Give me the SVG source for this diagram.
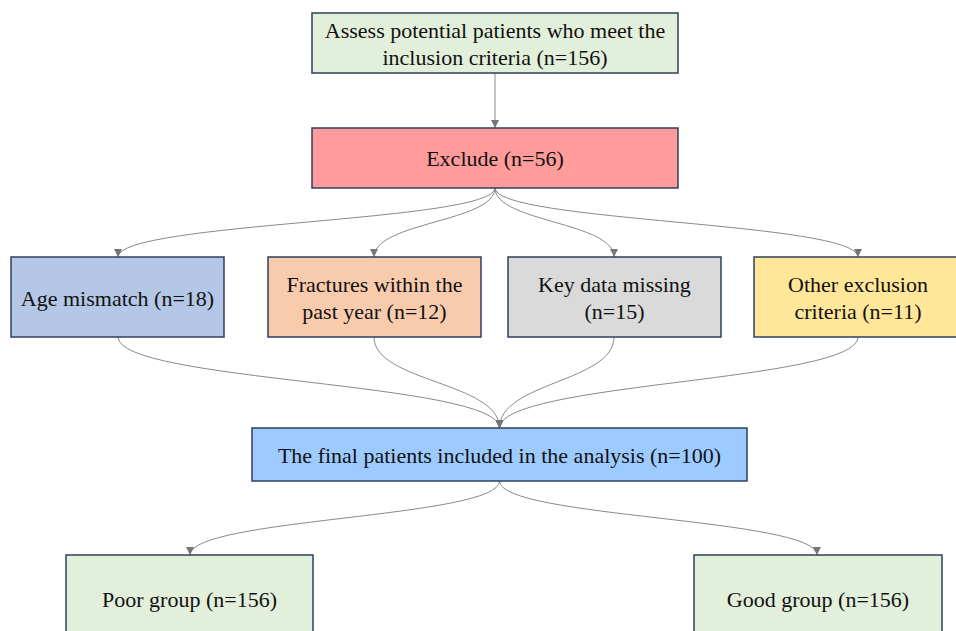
<svg xmlns="http://www.w3.org/2000/svg" width="956" height="631" viewBox="0 0 956 631">
<defs>
<marker id="ah" viewBox="0 0 10 10" refX="10" refY="5" markerWidth="8" markerHeight="8" markerUnits="userSpaceOnUse" orient="auto">
<path d="M0,0 L10,5 L0,10 z" fill="#767676"/>
</marker>
</defs>
<style>
.box{stroke:#2f3f5c;stroke-width:1.5}
.t{font-family:"Liberation Serif","Times New Roman",serif;font-size:22px;fill:#111;text-anchor:middle}
.c{fill:none;stroke:#8a8a8a;stroke-width:1;marker-end:url(#ah)}
</style>
<rect width="956" height="631" fill="#ffffff"/>
<g id="connectors">
<path class="c" d="M495,73 L495,128"/>
<path class="c" d="M495,188 C495,222 118,222 118,257"/>
<path class="c" d="M495,188 C495,222 374,222 374,257"/>
<path class="c" d="M495,188 C495,222 614,222 614,257"/>
<path class="c" d="M495,188 C495,222 858,222 858,257"/>
<path class="c" d="M118,337 C118,382 499.5,382 499.5,428"/>
<path class="c" d="M374,337 C374,382 499.5,382 499.5,428"/>
<path class="c" d="M614,337 C614,382 499.5,382 499.5,428"/>
<path class="c" d="M858,337 C858,382 499.5,382 499.5,428"/>
<path class="c" d="M499.5,481 C499.5,518 190,518 190,555"/>
<path class="c" d="M499.5,481 C499.5,518 817,518 817,555"/>
</g>
<g id="assess">
<rect class="box" x="312" y="13" width="366" height="60" fill="#e2efda"/>
<text class="t" x="495" y="38">Assess potential patients who meet the</text>
<text class="t" x="495" y="65">inclusion criteria (n=156)</text>
</g>
<g id="exclude">
<rect class="box" x="312" y="128" width="366" height="60" fill="#ff9b9b"/>
<text class="t" x="495" y="166">Exclude (n=56)</text>
</g>
<g id="age">
<rect class="box" x="11" y="257" width="213" height="80" fill="#b4c7e7"/>
<text class="t" x="117.5" y="306">Age mismatch (n=18)</text>
</g>
<g id="fractures">
<rect class="box" x="268" y="257" width="213" height="80" fill="#f8cbad"/>
<text class="t" x="374.5" y="292">Fractures within the</text>
<text class="t" x="374.5" y="319">past year (n=12)</text>
</g>
<g id="keydata">
<rect class="box" x="508" y="257" width="213" height="80" fill="#dadada"/>
<text class="t" x="614.5" y="292">Key data missing</text>
<text class="t" x="614.5" y="319">(n=15)</text>
</g>
<g id="other">
<rect class="box" x="754" y="257" width="208" height="80" fill="#ffe699"/>
<text class="t" x="858" y="292">Other exclusion</text>
<text class="t" x="858" y="319">criteria (n=11)</text>
</g>
<g id="final">
<rect class="box" x="252" y="428" width="495" height="53" fill="#9dcbff"/>
<text class="t" x="499.5" y="463">The final patients included in the analysis (n=100)</text>
</g>
<g id="poor">
<rect class="box" x="66" y="555" width="247" height="90" fill="#e2efda"/>
<text class="t" x="189.5" y="607">Poor group (n=156)</text>
</g>
<g id="good">
<rect class="box" x="694" y="555" width="248" height="90" fill="#e2efda"/>
<text class="t" x="818" y="607">Good group (n=156)</text>
</g>
</svg>
